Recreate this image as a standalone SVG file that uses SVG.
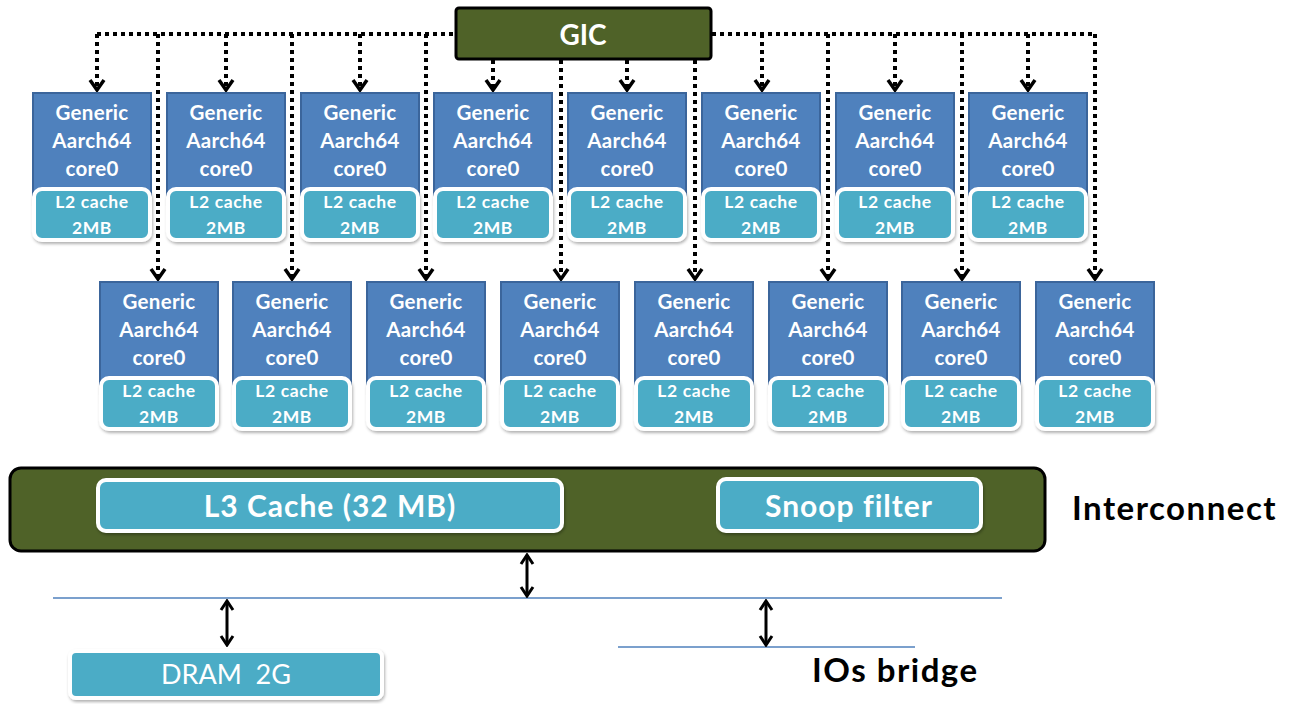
<svg xmlns="http://www.w3.org/2000/svg" width="1296" height="704" viewBox="0 0 1296 704">
  <style>
    .core { fill: #4f81bd; stroke: #3b659b; stroke-width: 2; }
    .l2 { fill: #4bacc6; stroke: #ffffff; stroke-width: 4; filter: url(#shadow); }
    .teal { fill: #4bacc6; stroke: #ffffff; stroke-width: 4; filter: url(#shadow); }
    .olive { fill: #4f6228; stroke: #000000; stroke-width: 3; }
    .ct { font-family: Lato, "Liberation Sans", sans-serif; font-weight: 700; font-size: 20.5px; letter-spacing: 0.3px; fill: #ffffff; text-anchor: middle; }
    .lt { font-family: Lato, "Liberation Sans", sans-serif; font-weight: 700; font-size: 17.5px; letter-spacing: 0.6px; fill: #ffffff; text-anchor: middle; }
    .gic { font-family: Lato, "Liberation Sans", sans-serif; font-weight: 700; font-size: 28px; fill: #ffffff; text-anchor: middle; }
    .big { font-family: Lato, "Liberation Sans", sans-serif; font-weight: 700; font-size: 30px; letter-spacing: 1px; fill: #ffffff; text-anchor: middle; }
    .dram { font-family: Lato, "Liberation Sans", sans-serif; font-weight: 400; font-size: 27px; fill: #ffffff; text-anchor: middle; white-space: pre; }
    .lbl { font-family: Lato, "Liberation Sans", sans-serif; font-weight: 700; font-size: 33px; letter-spacing: 1.5px; fill: #000000; }
    .dot { fill: none; stroke: #000000; stroke-width: 4; stroke-dasharray: 4 4; }
    .irq { fill: none; stroke: #000000; stroke-width: 4; stroke-dasharray: 4 4; marker-end: url(#vhead); }
    .bus { fill: none; stroke: #4f81bd; stroke-width: 1.3; }
    .dbl { fill: none; stroke: #000000; stroke-width: 3; marker-start: url(#dhead); marker-end: url(#dhead); }
  </style>
  <defs>
    <filter id="shadow" x="-10%" y="-10%" width="120%" height="130%">
      <feDropShadow dx="1" dy="2" stdDeviation="1.5" flood-color="#000000" flood-opacity="0.3"/>
    </filter>
    <marker id="vhead" markerUnits="userSpaceOnUse" viewBox="-12 -10 14 20" refX="0" refY="0" markerWidth="14" markerHeight="20" orient="auto">
      <path d="M-10,-7 L0,0 L-10,7" fill="none" stroke="#000000" stroke-width="3.5" stroke-dasharray="none"/>
    </marker>
    <marker id="dhead" markerUnits="userSpaceOnUse" viewBox="-12 -10 14 20" refX="0" refY="0" markerWidth="14" markerHeight="20" orient="auto-start-reverse">
      <path d="M-9,-6 L0,0 L-9,6" fill="none" stroke="#000000" stroke-width="3" stroke-dasharray="none"/>
    </marker>
  </defs>

  <rect width="1296" height="704" fill="#ffffff"/>

  <!-- interrupt and bus connectors -->
  <g id="connectors">
    <path class="dot" d="M97,34 H455"/>
    <path class="dot" d="M712,34 H1095"/>
    <!-- to upper row of cores -->
    <path class="irq" d="M97,34 V90"/>
    <path class="irq" d="M226,34 V90"/>
    <path class="irq" d="M360,34 V90"/>
    <path class="irq" d="M493,60 V90"/>
    <path class="irq" d="M627,60 V90"/>
    <path class="irq" d="M762,34 V90"/>
    <path class="irq" d="M895,34 V90"/>
    <path class="irq" d="M1028,34 V90"/>
    <!-- to lower row of cores -->
    <path class="irq" d="M158,34 V279"/>
    <path class="irq" d="M292,34 V279"/>
    <path class="irq" d="M426,34 V279"/>
    <path class="irq" d="M561,60 V279"/>
    <path class="irq" d="M695,60 V279"/>
    <path class="irq" d="M828,34 V279"/>
    <path class="irq" d="M962,34 V279"/>
    <path class="irq" d="M1095,34 V279"/>
    <!-- system bus -->
    <path class="bus" d="M53,598 H1002"/>
    <path class="bus" d="M618,647 H915"/>
    <path class="dbl" d="M527,555 V596"/>
    <path class="dbl" d="M227,601 V645"/>
    <path class="dbl" d="M766,601 V645"/>
  </g>

  <g id="gic">
    <rect class="olive" x="456" y="8" width="255" height="51" rx="3"/>
    <text class="gic" x="583" y="45">GIC</text>
  </g>

  <!-- upper row of cores -->
  <g id="core-a0" transform="translate(32,92)">
    <rect class="core" x="1" y="1" width="118" height="105"/>
    <text class="ct" x="60" y="28">Generic</text><text class="ct" x="60" y="56">Aarch64</text><text class="ct" x="60" y="84">core0</text>
    <rect class="l2" x="2" y="97" width="116" height="51" rx="8"/>
    <text class="lt" x="60" y="116">L2 cache</text><text class="lt" x="60" y="142">2MB</text>
  </g>
  <g id="core-a1" transform="translate(166,92)">
    <rect class="core" x="1" y="1" width="118" height="105"/>
    <text class="ct" x="60" y="28">Generic</text><text class="ct" x="60" y="56">Aarch64</text><text class="ct" x="60" y="84">core0</text>
    <rect class="l2" x="2" y="97" width="116" height="51" rx="8"/>
    <text class="lt" x="60" y="116">L2 cache</text><text class="lt" x="60" y="142">2MB</text>
  </g>
  <g id="core-a2" transform="translate(300,92)">
    <rect class="core" x="1" y="1" width="118" height="105"/>
    <text class="ct" x="60" y="28">Generic</text><text class="ct" x="60" y="56">Aarch64</text><text class="ct" x="60" y="84">core0</text>
    <rect class="l2" x="2" y="97" width="116" height="51" rx="8"/>
    <text class="lt" x="60" y="116">L2 cache</text><text class="lt" x="60" y="142">2MB</text>
  </g>
  <g id="core-a3" transform="translate(433,92)">
    <rect class="core" x="1" y="1" width="118" height="105"/>
    <text class="ct" x="60" y="28">Generic</text><text class="ct" x="60" y="56">Aarch64</text><text class="ct" x="60" y="84">core0</text>
    <rect class="l2" x="2" y="97" width="116" height="51" rx="8"/>
    <text class="lt" x="60" y="116">L2 cache</text><text class="lt" x="60" y="142">2MB</text>
  </g>
  <g id="core-a4" transform="translate(567,92)">
    <rect class="core" x="1" y="1" width="118" height="105"/>
    <text class="ct" x="60" y="28">Generic</text><text class="ct" x="60" y="56">Aarch64</text><text class="ct" x="60" y="84">core0</text>
    <rect class="l2" x="2" y="97" width="116" height="51" rx="8"/>
    <text class="lt" x="60" y="116">L2 cache</text><text class="lt" x="60" y="142">2MB</text>
  </g>
  <g id="core-a5" transform="translate(701,92)">
    <rect class="core" x="1" y="1" width="118" height="105"/>
    <text class="ct" x="60" y="28">Generic</text><text class="ct" x="60" y="56">Aarch64</text><text class="ct" x="60" y="84">core0</text>
    <rect class="l2" x="2" y="97" width="116" height="51" rx="8"/>
    <text class="lt" x="60" y="116">L2 cache</text><text class="lt" x="60" y="142">2MB</text>
  </g>
  <g id="core-a6" transform="translate(835,92)">
    <rect class="core" x="1" y="1" width="118" height="105"/>
    <text class="ct" x="60" y="28">Generic</text><text class="ct" x="60" y="56">Aarch64</text><text class="ct" x="60" y="84">core0</text>
    <rect class="l2" x="2" y="97" width="116" height="51" rx="8"/>
    <text class="lt" x="60" y="116">L2 cache</text><text class="lt" x="60" y="142">2MB</text>
  </g>
  <g id="core-a7" transform="translate(968,92)">
    <rect class="core" x="1" y="1" width="118" height="105"/>
    <text class="ct" x="60" y="28">Generic</text><text class="ct" x="60" y="56">Aarch64</text><text class="ct" x="60" y="84">core0</text>
    <rect class="l2" x="2" y="97" width="116" height="51" rx="8"/>
    <text class="lt" x="60" y="116">L2 cache</text><text class="lt" x="60" y="142">2MB</text>
  </g>

  <!-- lower row of cores -->
  <g id="core-b0" transform="translate(99,281)">
    <rect class="core" x="1" y="1" width="118" height="105"/>
    <text class="ct" x="60" y="28">Generic</text><text class="ct" x="60" y="56">Aarch64</text><text class="ct" x="60" y="84">core0</text>
    <rect class="l2" x="2" y="97" width="116" height="51" rx="8"/>
    <text class="lt" x="60" y="116">L2 cache</text><text class="lt" x="60" y="142">2MB</text>
  </g>
  <g id="core-b1" transform="translate(232,281)">
    <rect class="core" x="1" y="1" width="118" height="105"/>
    <text class="ct" x="60" y="28">Generic</text><text class="ct" x="60" y="56">Aarch64</text><text class="ct" x="60" y="84">core0</text>
    <rect class="l2" x="2" y="97" width="116" height="51" rx="8"/>
    <text class="lt" x="60" y="116">L2 cache</text><text class="lt" x="60" y="142">2MB</text>
  </g>
  <g id="core-b2" transform="translate(366,281)">
    <rect class="core" x="1" y="1" width="118" height="105"/>
    <text class="ct" x="60" y="28">Generic</text><text class="ct" x="60" y="56">Aarch64</text><text class="ct" x="60" y="84">core0</text>
    <rect class="l2" x="2" y="97" width="116" height="51" rx="8"/>
    <text class="lt" x="60" y="116">L2 cache</text><text class="lt" x="60" y="142">2MB</text>
  </g>
  <g id="core-b3" transform="translate(500,281)">
    <rect class="core" x="1" y="1" width="118" height="105"/>
    <text class="ct" x="60" y="28">Generic</text><text class="ct" x="60" y="56">Aarch64</text><text class="ct" x="60" y="84">core0</text>
    <rect class="l2" x="2" y="97" width="116" height="51" rx="8"/>
    <text class="lt" x="60" y="116">L2 cache</text><text class="lt" x="60" y="142">2MB</text>
  </g>
  <g id="core-b4" transform="translate(634,281)">
    <rect class="core" x="1" y="1" width="118" height="105"/>
    <text class="ct" x="60" y="28">Generic</text><text class="ct" x="60" y="56">Aarch64</text><text class="ct" x="60" y="84">core0</text>
    <rect class="l2" x="2" y="97" width="116" height="51" rx="8"/>
    <text class="lt" x="60" y="116">L2 cache</text><text class="lt" x="60" y="142">2MB</text>
  </g>
  <g id="core-b5" transform="translate(768,281)">
    <rect class="core" x="1" y="1" width="118" height="105"/>
    <text class="ct" x="60" y="28">Generic</text><text class="ct" x="60" y="56">Aarch64</text><text class="ct" x="60" y="84">core0</text>
    <rect class="l2" x="2" y="97" width="116" height="51" rx="8"/>
    <text class="lt" x="60" y="116">L2 cache</text><text class="lt" x="60" y="142">2MB</text>
  </g>
  <g id="core-b6" transform="translate(901,281)">
    <rect class="core" x="1" y="1" width="118" height="105"/>
    <text class="ct" x="60" y="28">Generic</text><text class="ct" x="60" y="56">Aarch64</text><text class="ct" x="60" y="84">core0</text>
    <rect class="l2" x="2" y="97" width="116" height="51" rx="8"/>
    <text class="lt" x="60" y="116">L2 cache</text><text class="lt" x="60" y="142">2MB</text>
  </g>
  <g id="core-b7" transform="translate(1035,281)">
    <rect class="core" x="1" y="1" width="118" height="105"/>
    <text class="ct" x="60" y="28">Generic</text><text class="ct" x="60" y="56">Aarch64</text><text class="ct" x="60" y="84">core0</text>
    <rect class="l2" x="2" y="97" width="116" height="51" rx="8"/>
    <text class="lt" x="60" y="116">L2 cache</text><text class="lt" x="60" y="142">2MB</text>
  </g>

  <g id="interconnect">
    <rect class="olive" x="10" y="468" width="1035" height="83" rx="11"/>
    <text class="lbl" x="1072" y="520">Interconnect</text>
  </g>
  <g id="l3-cache">
    <rect class="teal" x="98" y="480" width="464" height="51" rx="8"/>
    <text class="big" x="330" y="517">L3 Cache (32 MB)</text>
  </g>
  <g id="snoop-filter">
    <rect class="teal" x="718" y="479" width="263" height="52" rx="8"/>
    <text class="big" x="849" y="517">Snoop filter</text>
  </g>
  <g id="dram">
    <rect class="teal" x="70" y="651" width="312" height="47" rx="6"/>
    <text class="dram" x="226" y="684">DRAM  2G</text>
  </g>
  <g id="io-bridge">
    <text class="lbl" x="812" y="682">IOs bridge</text>
  </g>
</svg>
